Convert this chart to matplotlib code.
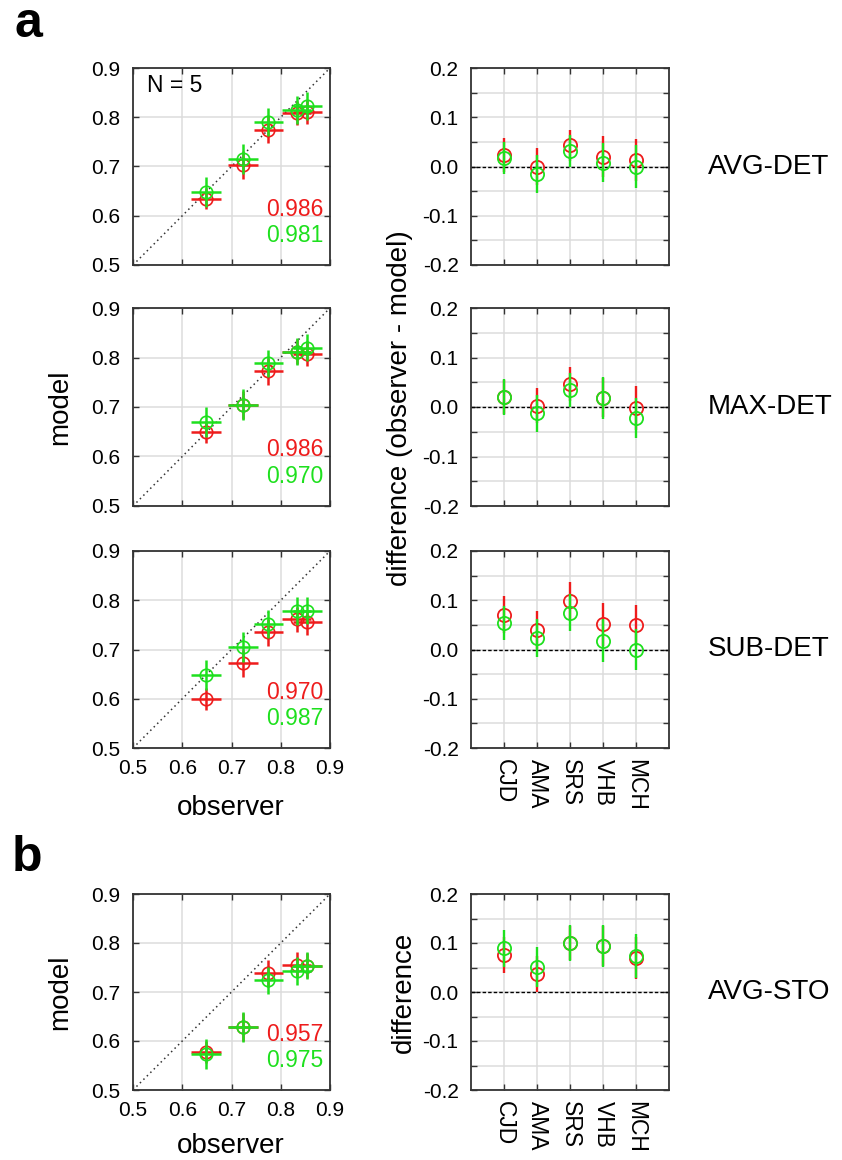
import numpy as np
import matplotlib
matplotlib.use("Agg")
import matplotlib.pyplot as plt
from matplotlib.ticker import MultipleLocator, FormatStrFormatter

plt.rcParams['font.family'] = ['Liberation Sans', 'DejaVu Sans']

# ============================
# Data
# ============================
observers = ['CJD', 'AMA', 'SRS', 'VHB', 'MCH']
obs_val = [0.832, 0.775, 0.854, 0.723, 0.648]
obs_err = [0.030, 0.030, 0.030, 0.031, 0.030]

conditions = ['AVG-DET', 'MAX-DET', 'SUB-DET', 'AVG-STO']

# difference (observer - model), red and green model variants
diff_red = {
    'AVG-DET': [0.023, 0.000, 0.043, 0.020, 0.013],
    'MAX-DET': [0.020, 0.003, 0.046, 0.019, -0.002],
    'SUB-DET': [0.071, 0.040, 0.099, 0.051, 0.049],
    'AVG-STO': [0.076, 0.037, 0.100, 0.094, 0.070],
}
diff_red_err = {
    'AVG-DET': [0.035, 0.038, 0.032, 0.042, 0.042],
    'MAX-DET': [0.034, 0.036, 0.034, 0.040, 0.045],
    'SUB-DET': [0.037, 0.039, 0.038, 0.043, 0.042],
    'AVG-STO': [0.037, 0.037, 0.035, 0.040, 0.043],
}
diff_green = {
    'AVG-DET': [0.017, -0.015, 0.031, 0.008, 0.000],
    'MAX-DET': [0.020, -0.013, 0.034, 0.018, -0.022],
    'SUB-DET': [0.054, 0.023, 0.075, 0.018, 0.000],
    'AVG-STO': [0.089, 0.051, 0.100, 0.094, 0.074],
}
diff_green_err = {
    'AVG-DET': [0.033, 0.038, 0.032, 0.040, 0.043],
    'MAX-DET': [0.036, 0.038, 0.034, 0.042, 0.040],
    'SUB-DET': [0.035, 0.038, 0.037, 0.043, 0.042],
    'AVG-STO': [0.037, 0.040, 0.036, 0.043, 0.045],
}
model_red_err = [0.025, 0.027, 0.025, 0.028, 0.022]
model_green_err = [0.028, 0.028, 0.028, 0.031, 0.031]

corr_red = {'AVG-DET': '0.986', 'MAX-DET': '0.986', 'SUB-DET': '0.970', 'AVG-STO': '0.957'}
corr_green = {'AVG-DET': '0.981', 'MAX-DET': '0.970', 'SUB-DET': '0.987', 'AVG-STO': '0.975'}

RED = '#ee1c1c'
GREEN = '#1ee01e'
GRID = '#dcdcdc'

# ============================
# Layout (figure fractions)
# ============================
W, H = 842, 1160
fig = plt.figure(figsize=(W / 100, H / 100), dpi=100)

rows_px = [(68, 265), (308, 506), (551, 748), (894, 1090)]
left_x, left_w = 133, 197
right_x, right_w = 471, 198


def make_ax(x0, w, top, bot):
    return fig.add_axes([x0 / W, 1 - bot / H, w / W, (bot - top) / H])


def style_box(ax):
    for s in ax.spines.values():
        s.set_linewidth(1.3)
        s.set_color('#333333')
    ax.tick_params(which='both', direction='in', top=True, right=True,
                   length=4, width=1, color='#333333', labelsize=15)
    ax.tick_params(axis='y', pad=9)
    ax.tick_params(axis='x', pad=8)


x_cat = np.arange(1, len(observers) + 1)

for i, cond in enumerate(conditions):
    top, bot = rows_px[i]
    obs = np.array(obs_val)
    m_red = obs - np.array(diff_red[cond])
    m_green = obs - np.array(diff_green[cond])

    # ---- scatter: model vs observer ----
    ax = make_ax(left_x, left_w, top, bot)
    ax.plot([0.5, 0.9], [0.5, 0.9], color='#333333', linestyle=(0, (1, 2.2)), lw=1.1, zorder=1)
    ax.errorbar(obs, m_red, xerr=obs_err, yerr=model_red_err, fmt='o', ms=9,
                mfc='none', mec=RED, mew=1.2, ecolor=RED, elinewidth=1.8, capsize=0, zorder=3)
    ax.errorbar(obs, m_green, xerr=obs_err, yerr=model_green_err, fmt='o', ms=9,
                mfc='none', mec=GREEN, mew=1.2, ecolor=GREEN, elinewidth=1.8, capsize=0, zorder=4)
    ax.set_xlim(0.5, 0.9)
    ax.set_ylim(0.5, 0.9)
    ax.xaxis.set_major_locator(MultipleLocator(0.1))
    ax.yaxis.set_major_locator(MultipleLocator(0.1))
    ax.xaxis.set_major_formatter(FormatStrFormatter('%.1f'))
    ax.yaxis.set_major_formatter(FormatStrFormatter('%.1f'))
    ax.grid(True, color=GRID, lw=1.1)
    ax.set_axisbelow(True)
    style_box(ax)
    if i in (0, 1):
        ax.set_xticklabels([])
    ax.text(0.965, 0.25, corr_red[cond], color=RED, fontsize=16.5, ha='right',
            va='baseline', transform=ax.transAxes)
    ax.text(0.965, 0.115, corr_green[cond], color=GREEN, fontsize=16.5, ha='right',
            va='baseline', transform=ax.transAxes)
    if i == 0:
        ax.text(0.07, 0.877, 'N = 5', fontsize=16.5, ha='left', va='baseline',
                transform=ax.transAxes)

    # ---- difference panel ----
    ax2 = make_ax(right_x, right_w, top, bot)
    ax2.axhline(0, color='black', linestyle=(0, (2.5, 1.5)), lw=1.0, zorder=2)
    ax2.errorbar(x_cat, diff_red[cond], yerr=diff_red_err[cond], fmt='o', ms=9.5,
                 mfc='none', mec=RED, mew=1.3, ecolor=RED, elinewidth=1.7, capsize=0, zorder=3)
    ax2.errorbar(x_cat, diff_green[cond], yerr=diff_green_err[cond], fmt='o', ms=9.5,
                 mfc='none', mec=GREEN, mew=1.3, ecolor=GREEN, elinewidth=1.7, capsize=0, zorder=4)
    ax2.set_xlim(0, len(observers) + 1)
    ax2.set_ylim(-0.2, 0.2)
    ax2.set_xticks(x_cat)
    ax2.yaxis.set_major_locator(MultipleLocator(0.1))
    ax2.yaxis.set_minor_locator(MultipleLocator(0.05))
    ax2.yaxis.set_major_formatter(FormatStrFormatter('%.1f'))
    ax2.grid(True, which='both', color=GRID, lw=1.1)
    ax2.set_axisbelow(True)
    style_box(ax2)
    ax2.tick_params(which='minor', length=4, direction='in', right=True, color='#333333')
    if i in (2, 3):
        ax2.set_xticklabels(observers, rotation=-90, fontsize=16.5)
        ax2.tick_params(axis='x', pad=8)
    else:
        ax2.set_xticklabels([])

    fig.text(708 / W, 1 - (top + bot) / 2 / H, cond, fontsize=20, ha='left', va='center')

# ============================
# Axis labels and panel letters
# ============================
fig.text(60 / W, 1 - 407 / H, 'model', fontsize=20, rotation=90, ha='center', va='center')
fig.text(60 / W, 1 - 992 / H, 'model', fontsize=20, rotation=90, ha='center', va='center')
fig.text(231 / W, 1 - 808 / H, 'observer', fontsize=20, ha='center', va='center')
fig.text(231 / W, 1 - 1146 / H, 'observer', fontsize=20, ha='center', va='center')
fig.text(400 / W, 1 - 408 / H, 'difference (observer - model)', fontsize=20,
         rotation=90, ha='center', va='center')
fig.text(404 / W, 1 - 992 / H, 'difference', fontsize=20, rotation=90,
         ha='center', va='center')

fig.text(15 / W, 1 - 37 / H, 'a', fontsize=36, fontweight='bold', ha='left', va='baseline')
fig.text(12 / W, 1 - 871 / H, 'b', fontsize=36, fontweight='bold', ha='left', va='baseline')

fig.savefig('out.png', dpi=100)
